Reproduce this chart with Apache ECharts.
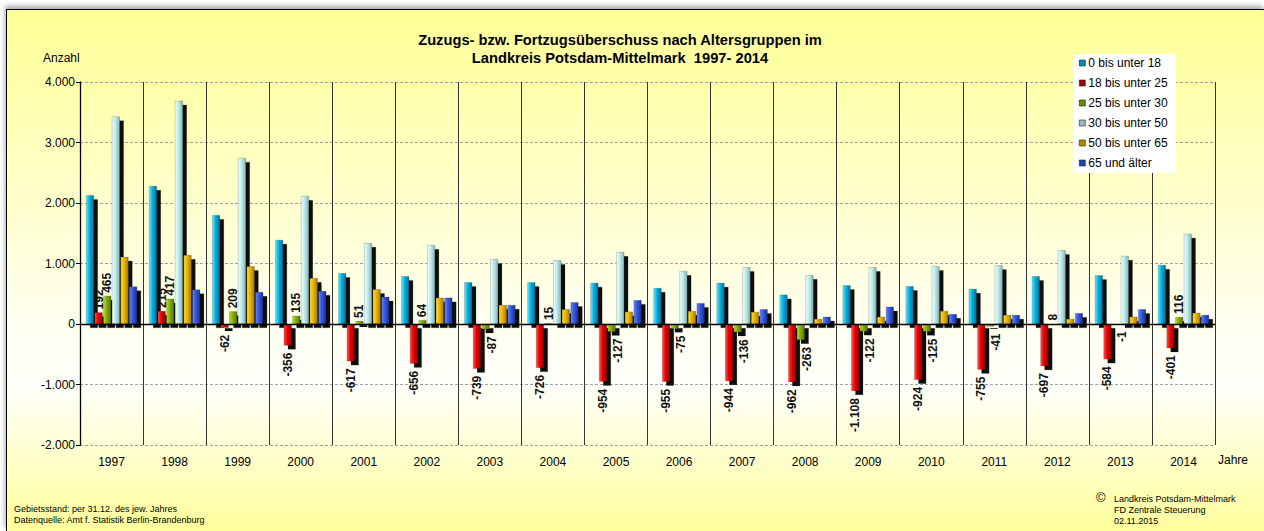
<!DOCTYPE html>
<html>
<head>
<meta charset="utf-8">
<script src="https://cdn.jsdelivr.net/npm/echarts@6/dist/echarts.min.js"></script>
<style>
  html, body { margin: 0; padding: 0; background: #fff; }
  #frame {
    position: absolute; left: 6px; top: 9px; right: 0; bottom: 0;
    border-left: 1px solid #000; border-top: 1px solid #000;
    box-shadow: -1px -3px 5px rgba(0,0,0,0.35);
    background: linear-gradient(to bottom, #ffff96 0%, #fffff0 60%, #fffffb 72%, #ffff9c 100%);
  }
  #chart { position: absolute; left: 0; top: 0; width: 1264px; height: 531px; }
</style>
</head>
<body>
<div id="frame"></div>
<div id="chart"></div>
<script>
// Jahre
const years = ['1997','1998','1999','2000','2001','2002','2003','2004','2005',
  '2006','2007','2008','2009','2010','2011','2012','2013','2014']

// Wanderungssaldo je Altersgruppe (Werte ohne Beschriftung aus der Grafik geschätzt)
const age0to18  = [2130, 2280, 1800, 1390, 840, 790, 690, 690, 680, 595, 680, 485, 640, 625, 580, 790, 805, 975]
const age18to25 = [192, 215, -62, -356, -617, -656, -739, -726, -954, -955, -944, -962, -1108, -924, -755, -697, -584, -401]
const age25to30 = [465, 417, 209, 135, 51, 64, -87, 15, -127, -75, -136, -263, -122, -125, -41, 8, -1, 116]
const age30to50 = [3430, 3690, 2745, 2115, 1340, 1305, 1070, 1055, 1190, 875, 940, 810, 940, 955, 970, 1220, 1125, 1490]
const age50to65 = [1110, 1140, 955, 760, 575, 435, 315, 245, 205, 215, 200, 85, 120, 215, 150, 85, 120, 185]
const age65plus = [620, 570, 530, 545, 450, 435, 315, 360, 395, 345, 245, 120, 285, 165, 150, 180, 245, 150]

const groupNames = ['0 bis unter 18', '18 bis unter 25', '25 bis unter 30',
  '30 bis unter 50', '50 bis unter 65', '65 und älter']

const yTicks = [-2000, -1000, 0, 1000, 2000, 3000, 4000]

const fmt = (n) => {
  const s = String(Math.abs(n)).replace(/\B(?=(\d{3})+(?!\d))/g, '.')
  return (n < 0 ? '-' : '') + s
}

const grad = (c) => new echarts.graphic.LinearGradient(0, 0, 1, 0, [
  { offset: 0, color: c[0] },
  { offset: 0.45, color: c[1] },
  { offset: 1, color: c[2] },
])

const palette = [
  { bar: ['#6fe0ff', '#00aede', '#00729a'], legend: '#0a8fb0' },
  { bar: ['#ff5050', '#e60000', '#a00000'], legend: '#a00000' },
  { bar: ['#b4dc30', '#84ae00', '#557400'], legend: '#6a8c00' },
  { bar: ['#f0ffff', '#bfeaea', '#84b4b4'], legend: '#98bcbc' },
  { bar: ['#ffdc48', '#e6b400', '#a87c00'], legend: '#b08a00' },
  { bar: ['#6a86ff', '#3456dc', '#1c3298'], legend: '#2440b0' },
]

const posLabel = { position: 'top', distance: 3, rotate: 90, align: 'left', verticalAlign: 'middle' }
const negLabel = { position: 'bottom', distance: 7, rotate: 90, align: 'right', verticalAlign: 'middle' }
// negative 25-30 labels sit a little to the right, clear of the red bar's shadow
// (offset is in the rotated text frame, so +y moves right on screen)
const negLabelRight = { ...negLabel, offset: [0, 6] }
const withLabels = (arr, neg) => arr.map(v => ({ value: v, label: v >= 0 ? posLabel : neg }))

const values = [age0to18, age18to25, age25to30, age30to50, age50to65, age65plus]

const series = values.map((arr, i) => {
  const labelled = i === 1 || i === 2
  const s = {
    name: groupNames[i],
    type: 'bar',
    barWidth: 8,
    barGap: '8%',
    itemStyle: {
      color: grad(palette[i].bar),
      borderColor: 'rgba(0,0,0,0.35)',
      borderWidth: 0.5,
      shadowColor: 'rgba(0,0,0,0.95)',
      shadowOffsetX: 4,
      shadowOffsetY: 4,
      shadowBlur: 0,
    },
    label: {
      show: labelled,
      color: '#111',
      fontSize: 12,
      fontWeight: 'bold',
      fontFamily: 'Liberation Sans, Arial, sans-serif',
      formatter: (p) => fmt(p.value),
    },
    data: labelled ? withLabels(arr, i === 2 ? negLabelRight : negLabel) : arr,
  }
  if (i === 0) {
    s.markLine = {
      silent: true,
      symbol: 'none',
      label: { show: false },
      lineStyle: { color: '#000', type: 'solid', width: 1.3 },
      data: [{ yAxis: 0 }],
    }
  }
  return s
})

const chart = echarts.init(document.getElementById('chart'), null, { renderer: 'svg' })
chart.setOption({
  animation: false,
  backgroundColor: 'transparent',
  textStyle: { fontFamily: 'Liberation Sans, Arial, sans-serif' },
  title: {
    text: 'Zuzugs- bzw. Fortzugsüberschuss nach Altersgruppen im\nLandkreis Potsdam-Mittelmark  1997- 2014',
    left: 615,
    top: 26,
    textAlign: 'center',
    textStyle: { fontSize: 14.7, fontWeight: 'bold', color: '#000', lineHeight: 18 },
  },
  legend: {
    orient: 'vertical',
    left: 1073,
    top: 54,
    backgroundColor: '#fff',
    padding: [3, 8, 4, 6],
    itemWidth: 6,
    itemHeight: 6,
    itemGap: 8,
    icon: 'rect',
    textStyle: { fontSize: 12, color: '#000', padding: [0, 0, 0, -2] },
    data: groupNames.map((n, i) => ({
      name: n,
      itemStyle: { color: palette[i].legend, borderColor: '#222', borderWidth: 0.6, shadowBlur: 0, shadowOffsetX: 0, shadowOffsetY: 0 },
    })),
  },
  grid: { left: 80, right: 49, top: 82, bottom: 86 },
  xAxis: {
    type: 'category',
    data: years,
    axisLine: { show: false, onZero: false },
    axisTick: { show: false },
    axisLabel: { color: '#000', fontSize: 12, margin: 11 },
    splitLine: { show: true, lineStyle: { color: '#333', width: 1 } },
  },
  yAxis: {
    type: 'value',
    min: yTicks[0],
    max: yTicks[yTicks.length - 1],
    interval: 1000,
    axisLine: { show: true, lineStyle: { color: '#000', width: 1.3 } },
    axisTick: { show: true, length: 4, lineStyle: { color: '#000' } },
    axisLabel: { color: '#000', fontSize: 12, margin: 5, formatter: (v) => fmt(v) },
    splitLine: { show: true, lineStyle: { color: '#a0a0a0', type: [3, 2], width: 1 } },
  },
  graphic: [
    { type: 'text', left: 43, top: 52, style: { text: 'Anzahl', fill: '#000', font: '12px Liberation Sans, Arial' } },
    { type: 'text', left: 1218, top: 454, style: { text: 'Jahre', fill: '#000', font: '12px Liberation Sans, Arial' } },
    { type: 'text', left: 14, top: 503, style: { text: 'Gebietsstand: per 31.12. des jew. Jahres\nDatenquelle: Amt f. Statistik Berlin-Brandenburg', fill: '#000', font: '9px Liberation Sans, Arial', lineHeight: 11 } },
    { type: 'text', left: 1096, top: 491, style: { text: '©', fill: '#000', font: '13px Liberation Sans, Arial' } },
    { type: 'text', left: 1114, top: 493, style: { text: 'Landkreis Potsdam-Mittelmark\nFD Zentrale Steuerung\n02.11.2015', fill: '#000', font: '9px Liberation Sans, Arial', lineHeight: 11 } },
  ],
  series,
})
</script>
</body>
</html>
